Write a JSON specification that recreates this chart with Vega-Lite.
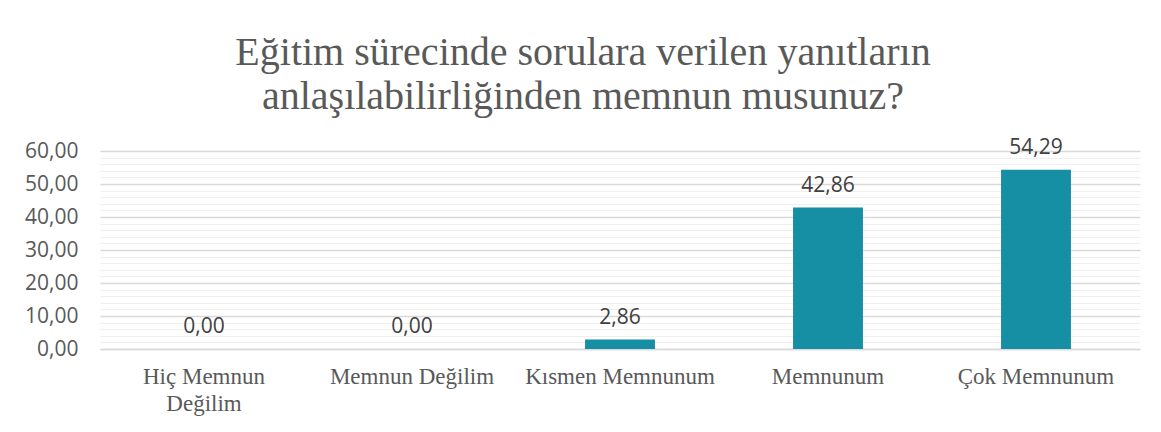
{
  "$schema": "https://vega.github.io/schema/vega-lite/v6.json",
  "autosize": {"type": "none"},
  "width": 1040,
  "height": 198,
  "padding": {"left": 100, "top": 151, "right": 21, "bottom": 83},
  "background": "white",
  "config": {
    "locale": {"number": {"decimal": ",", "thousands": ".", "grouping": [3], "currency": ["", " TL"]}},
    "view": {"stroke": null}
  },
  "title": {
    "text": ["Eğitim sürecinde sorulara verilen yanıtların", "anlaşılabilirliğinden memnun musunuz?"],
    "font": "Liberation Serif",
    "fontSize": 40,
    "fontWeight": "normal",
    "color": "#595959",
    "lineHeight": 44,
    "anchor": "middle",
    "dx": -37,
    "offset": 20
  },
  "data": {
    "values": [
      {"kategori": "Hiç Memnun Değilim", "deger": 0.00},
      {"kategori": "Memnun Değilim", "deger": 0.00},
      {"kategori": "Kısmen Memnunum", "deger": 2.86},
      {"kategori": "Memnunum", "deger": 42.86},
      {"kategori": "Çok Memnunum", "deger": 54.29}
    ]
  },
  "encoding": {
    "x": {
      "field": "kategori",
      "type": "nominal",
      "sort": null,
      "scale": {"paddingInner": 0.664, "paddingOuter": 0.332},
      "axis": {
        "title": null,
        "labelAngle": 0,
        "labelFont": "Liberation Serif",
        "labelFontSize": 23,
        "labelColor": "#595959",
        "labelPadding": 16,
        "labelLineHeight": 27,
        "labelLimit": 400,
        "labelBaseline": "top",
        "labelExpr": "datum.label == 'Hiç Memnun Değilim' ? ['Hiç Memnun', 'Değilim'] : datum.label",
        "ticks": false,
        "domain": true,
        "domainColor": "#d9d9d9",
        "domainWidth": 1.5,
        "grid": false
      }
    },
    "y": {
      "field": "deger",
      "type": "quantitative",
      "scale": {"domain": [0, 60], "nice": false},
      "axis": {
        "title": null,
        "values": [0, 2, 4, 6, 8, 10, 12, 14, 16, 18, 20, 22, 24, 26, 28, 30, 32, 34, 36, 38, 40, 42, 44, 46, 48, 50, 52, 54, 56, 58, 60],
        "format": ".2f",
        "labelExpr": "datum.value % 10 === 0 ? datum.label : ''",
        "labelFont": "Open Sans",
        "labelFontSize": 21,
        "labelColor": "#595959",
        "labelPadding": 22,
        "ticks": false,
        "domain": false,
        "grid": true,
        "gridColor": {"condition": {"test": "datum.value % 10 === 0", "value": "#d9d9d9"}, "value": "#efefef"},
        "gridWidth": {"condition": {"test": "datum.value % 10 === 0", "value": 1.5}, "value": 1.2}
      }
    }
  },
  "layer": [
    {"mark": {"type": "bar", "color": "#168EA4"}},
    {
      "mark": {"type": "text", "baseline": "alphabetic", "dy": -16, "font": "Open Sans", "fontSize": 21, "color": "#404040"},
      "encoding": {"text": {"field": "deger", "type": "quantitative", "format": ".2f"}}
    }
  ]
}
